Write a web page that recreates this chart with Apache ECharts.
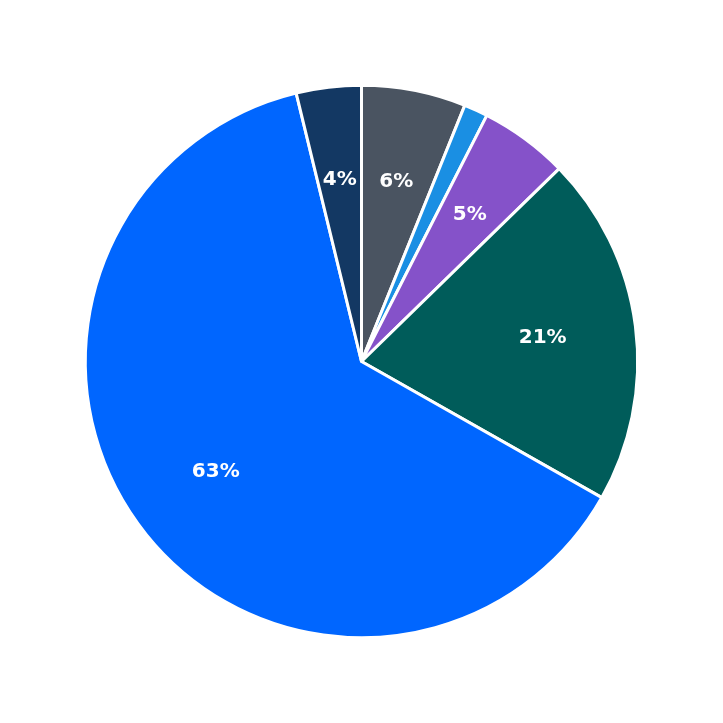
<!DOCTYPE html><html><head><meta charset="utf-8">
<script src="https://cdn.jsdelivr.net/npm/echarts@6/dist/echarts.min.js"></script>
<style>html,body{margin:0;padding:0}#c{width:723px;height:723px}</style></head><body><div id="c"></div>
<script>
const names = ['A','B','C','D','E','F'];
const values = [6.1, 1.4, 5.2, 20.5, 63.0, 3.8];
const labels = ['6%','1%','5%','21%','63%','4%'];
const colors = ['#4a5461','#1a8fe3','#8552c9','#005c5a','#0066ff','#133863'];
const data = names.map((n,i)=>({name:n,value:values[i],itemStyle:{color:colors[i]}}));
const chart = echarts.init(document.getElementById('c'));
chart.setOption({
  animation:false,
  series:[
    {type:'pie',center:['50%','50%'],radius:[0,'76.4%'],startAngle:90,clockwise:true,
     data:data,itemStyle:{borderColor:'#fff',borderWidth:3},label:{show:false},labelLine:{show:false},silent:true},
    {type:'pie',center:['50%','50%'],radius:['23%','76.4%'],startAngle:90,clockwise:true,
     data:names.map((n,i)=>({name:n,value:values[i],itemStyle:{color:'rgba(0,0,0,0)'}})),
     label:{show:true,position:'inside',formatter:p=>labels[p.dataIndex],color:'#fff',fontSize:20,fontWeight:'bold',fontFamily:'DejaVu Sans'},
     labelLine:{show:false},silent:true}
  ]
});
</script></body></html>
